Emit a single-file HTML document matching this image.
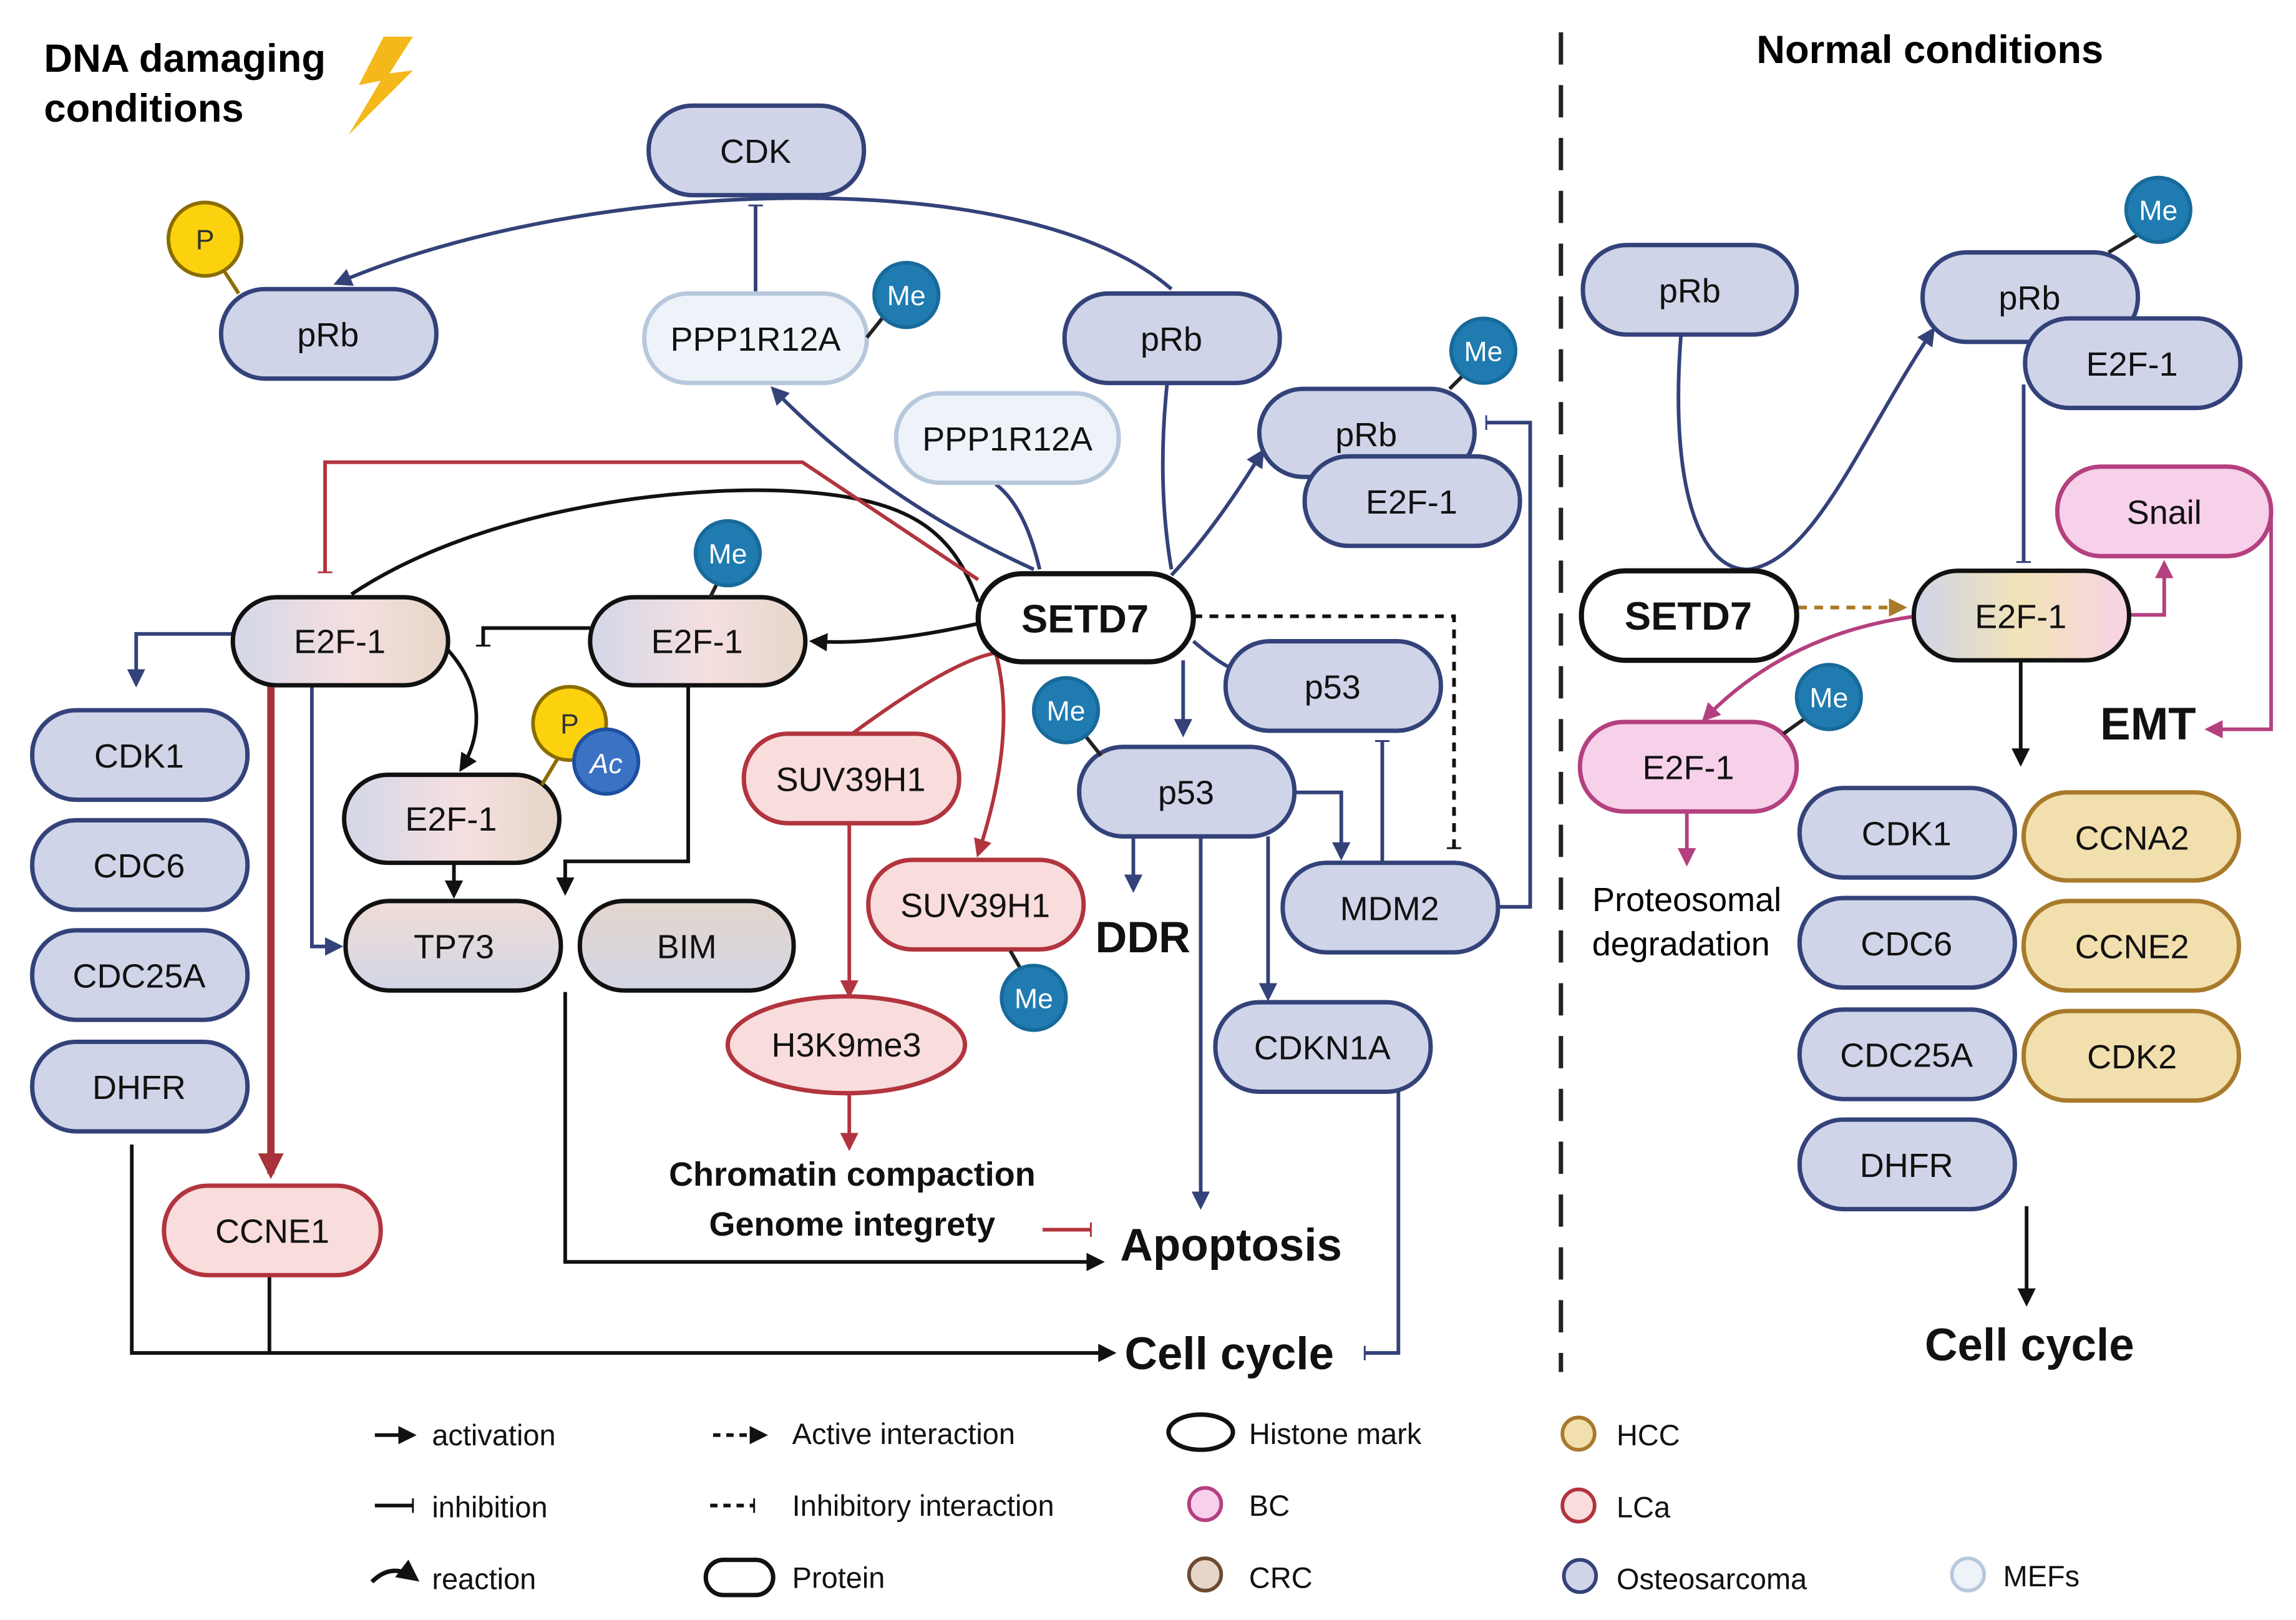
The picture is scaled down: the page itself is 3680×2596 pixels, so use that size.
<!DOCTYPE html>
<html><head><meta charset="utf-8"><style>
html,body{margin:0;padding:0;background:#fff;}
svg{display:block;}
text{font-family:"Liberation Sans",sans-serif;}
</style></head><body>
<svg width="3680" height="2596" viewBox="0 0 1568 1104" preserveAspectRatio="none" xmlns="http://www.w3.org/2000/svg">
<defs>
<linearGradient id="crc" x1="0" x2="1" y1="0" y2="0"><stop offset="0" stop-color="#d3d7e8"/><stop offset="0.55" stop-color="#f5dfe0"/><stop offset="1" stop-color="#e6d6c8"/></linearGradient>
<linearGradient id="crcv" x1="0" x2="0" y1="0" y2="1"><stop offset="0" stop-color="#efdcd6"/><stop offset="1" stop-color="#d3d6e6"/></linearGradient>
<linearGradient id="bimv" x1="0" x2="0" y1="0" y2="1"><stop offset="0" stop-color="#e3d6cc"/><stop offset="1" stop-color="#d3d6e6"/></linearGradient>
<linearGradient id="rg" x1="0" x2="1" y1="0" y2="0"><stop offset="0" stop-color="#cfd4e8"/><stop offset="0.5" stop-color="#f2e3b8"/><stop offset="1" stop-color="#f6d3e6"/></linearGradient>
<marker id="an" viewBox="0 0 10 10" refX="8" refY="5" markerWidth="5" markerHeight="5" orient="auto"><path d="M0,0L10,5L0,10z" fill="#34427a"/></marker>
<marker id="ab" viewBox="0 0 10 10" refX="8" refY="5" markerWidth="5" markerHeight="5" orient="auto"><path d="M0,0L10,5L0,10z" fill="#111"/></marker>
<marker id="ar" viewBox="0 0 10 10" refX="8" refY="5" markerWidth="5" markerHeight="5" orient="auto"><path d="M0,0L10,5L0,10z" fill="#b2343e"/></marker>
<marker id="ar2" viewBox="0 0 10 10" refX="8" refY="5" markerWidth="3.5" markerHeight="3.5" orient="auto"><path d="M0,0L10,5L0,10z" fill="#a8323a"/></marker>
<marker id="ap" viewBox="0 0 10 10" refX="8" refY="5" markerWidth="5" markerHeight="5" orient="auto"><path d="M0,0L10,5L0,10z" fill="#b4407f"/></marker>
<marker id="ao" viewBox="0 0 10 10" refX="8" refY="5" markerWidth="5" markerHeight="5" orient="auto"><path d="M0,0L10,5L0,10z" fill="#a87a2a"/></marker>
<marker id="tn" viewBox="0 0 4 20" refX="2" refY="10" markerWidth="4" markerHeight="10" orient="auto" markerUnits="userSpaceOnUse"><path d="M2,0V20" stroke="#34427a" stroke-width="2.5"/></marker>
<marker id="tb" viewBox="0 0 4 20" refX="2" refY="10" markerWidth="4" markerHeight="10" orient="auto" markerUnits="userSpaceOnUse"><path d="M2,0V20" stroke="#111" stroke-width="2.5"/></marker>
<marker id="tr" viewBox="0 0 4 20" refX="2" refY="10" markerWidth="4" markerHeight="10" orient="auto" markerUnits="userSpaceOnUse"><path d="M2,0V20" stroke="#b2343e" stroke-width="2.5"/></marker>
</defs>

<!-- divider -->
<line x1="1066" y1="22" x2="1066" y2="935" stroke="#222" stroke-width="3" stroke-dasharray="22,14"/>

<!-- titles -->
<text x="30" y="49" font-size="27" font-weight="bold">DNA damaging</text>
<text x="30" y="83" font-size="27" font-weight="bold">conditions</text>
<path d="M262,25 L245,58 L260,55 L238,92 L282,48 L266,50 L282,25z" fill="#f5b81a"/>
<text x="1318" y="43" font-size="27" font-weight="bold" text-anchor="middle">Normal conditions</text>

<!-- EDGES left -->
<g fill="none" stroke="#34427a" stroke-width="2.5">
<path d="M800,197 C700,110 400,120 230,193" marker-end="url(#an)"/>
<path d="M516,200 V140" marker-end="url(#tn)"/>
<path d="M706,388 Q600,340 528,265" marker-end="url(#an)"/>
<path d="M710,388 Q700,345 680,330"/>
<path d="M800,388 Q790,330 797,262"/>
<path d="M800,392 Q830,360 862,308" marker-end="url(#an)"/>
<path d="M1023,618 H1045 V288 H1015" marker-end="url(#tn)"/>
<path d="M808,450 V500" marker-end="url(#an)"/>
<path d="M815,437 Q830,450 840,455"/>
<path d="M944,590 V505" marker-end="url(#tn)"/>
<path d="M884,540 H916 V584" marker-end="url(#an)"/>
<path d="M774,570 V606" marker-end="url(#an)"/>
<path d="M820,570 V822" marker-end="url(#an)"/>
<path d="M866,570 V680" marker-end="url(#an)"/>
<path d="M955,744 V922 H932" marker-end="url(#tn)"/>
<path d="M162,432 H93 V466" marker-end="url(#an)"/>
<path d="M213,467 V645 H232" marker-end="url(#an)"/>
</g>
<g fill="none" stroke="#111" stroke-width="2.5">
<path d="M240,405 C330,345 470,330 545,335 C620,340 650,360 668,410"/>
<path d="M668,425 Q600,440 555,437" marker-end="url(#ab)"/>
<path d="M403,428 H330 V440" marker-end="url(#tb)"/>
<path d="M306,443 C330,470 330,500 315,524" marker-end="url(#ab)"/>
<path d="M470,467 V587 H386 V608" marker-end="url(#ab)"/>
<path d="M310,588 V610" marker-end="url(#ab)"/>
<path d="M386,676 V860 H752" marker-end="url(#ab)"/>
<path d="M90,780 V922 H760" marker-end="url(#ab)"/>
<path d="M184,869 V922"/>
<path d="M815,420 H993 V578" stroke-dasharray="6,5" marker-end="url(#tb)"/>
</g>
<g fill="none" stroke="#b2343e" stroke-width="2.5">
<path d="M668,395 L548,315 H222 V390" marker-end="url(#tr)"/>
<path d="M185,467 V800" stroke-width="5" stroke="#a8323a" marker-end="url(#ar2)"/>
<path d="M680,445 Q650,450 582,500"/>
<path d="M680,445 Q695,500 668,582" marker-end="url(#ar)"/>
<path d="M580,562 V678" marker-end="url(#ar)"/>
<path d="M580,745 V782" marker-end="url(#ar)"/>
<path d="M712,838 H745" marker-end="url(#tr)"/>
</g>

<!-- EDGES right -->
<g fill="none" stroke="#34427a" stroke-width="2.5">
<path d="M1148,228 C1140,330 1160,390 1195,388 C1240,380 1270,300 1320,225" marker-end="url(#an)"/>
<path d="M1382,262 V383" marker-end="url(#tn)"/>
</g>
<path d="M1228,414 H1300" stroke="#a87a2a" stroke-width="2.5" stroke-dasharray="6,5" fill="none" marker-end="url(#ao)"/>
<path d="M1380,450 V520" stroke="#111" stroke-width="2.5" fill="none" marker-end="url(#ab)"/>
<path d="M1384,822 V888" stroke="#111" stroke-width="2.5" fill="none" marker-end="url(#ab)"/>
<g fill="none" stroke="#b4407f" stroke-width="2.5">
<path d="M1454,419 H1478 V384" marker-end="url(#ap)"/>
<path d="M1551,348 V497 H1508" marker-end="url(#ap)"/>
<path d="M1308,420 Q1220,432 1164,490" marker-end="url(#ap)"/>
<path d="M1152,553 V588" marker-end="url(#ap)"/>
</g>

<!-- NODES -->
<g font-size="22" text-anchor="middle" stroke-width="3">
<!-- osteo -->
<g fill="#cfd4e8" stroke="#34427a">
<rect x="443" y="72" width="147" height="61" rx="30"/>
<rect x="151" y="197" width="147" height="61" rx="30"/>
<rect x="727" y="200" width="147" height="61" rx="30"/>
<rect x="860" y="265" width="147" height="60" rx="30"/>
<rect x="891" y="311" width="147" height="61" rx="30"/>
<rect x="22" y="484" width="147" height="61" rx="30"/>
<rect x="22" y="559" width="147" height="61" rx="30"/>
<rect x="22" y="634" width="147" height="61" rx="30"/>
<rect x="22" y="710" width="147" height="61" rx="30"/>
<rect x="837" y="437" width="147" height="61" rx="30"/>
<rect x="737" y="509" width="147" height="61" rx="30"/>
<rect x="876" y="588" width="147" height="61" rx="30"/>
<rect x="830" y="683" width="147" height="61" rx="30"/>
<rect x="1081" y="167" width="146" height="61" rx="30"/>
<rect x="1313" y="172" width="147" height="61" rx="30"/>
<rect x="1383" y="217" width="147" height="61" rx="30"/>
<rect x="1229" y="537" width="147" height="61" rx="30"/>
<rect x="1229" y="612" width="147" height="61" rx="30"/>
<rect x="1229" y="688" width="147" height="61" rx="30"/>
<rect x="1229" y="763" width="147" height="61" rx="30"/>
</g>
<g fill="#eef3fa" stroke="#b8c8dc">
<rect x="440" y="200" width="152" height="61" rx="30"/>
<rect x="612" y="268" width="152" height="61" rx="30"/>
</g>
<g fill="#f9dcdc" stroke="#b2343e">
<rect x="112" y="808" width="148" height="61" rx="30"/>
<rect x="508" y="500" width="147" height="61" rx="30"/>
<rect x="593" y="586" width="147" height="61" rx="30"/>
<ellipse cx="578" cy="712" rx="81" ry="33"/>
</g>
<g fill="#f2dfae" stroke="#a87a2a">
<rect x="1382" y="540" width="147" height="60" rx="30"/>
<rect x="1382" y="614" width="147" height="61" rx="30"/>
<rect x="1382" y="689" width="147" height="61" rx="30"/>
</g>
<g fill="#f7d0ea" stroke="#b4407f">
<rect x="1405" y="318" width="146" height="61" rx="30"/>
<rect x="1079" y="492" width="148" height="61" rx="30"/>
</g>
<g stroke="#111">
<rect x="159" y="407" width="147" height="60" rx="30" fill="url(#crc)"/>
<rect x="403" y="407" width="147" height="60" rx="30" fill="url(#crc)"/>
<rect x="235" y="528" width="147" height="60" rx="30" fill="url(#crc)"/>
<rect x="236" y="614" width="147" height="61" rx="30" fill="url(#crcv)"/>
<rect x="396" y="614" width="146" height="61" rx="30" fill="url(#bimv)"/>
<rect x="668" y="391" width="147" height="60" rx="30" fill="#fff" stroke-width="3.5"/>
<rect x="1080" y="389" width="147" height="61" rx="30" fill="#fff" stroke-width="3.5"/>
<rect x="1307" y="389" width="147" height="61" rx="30" fill="url(#rg)"/>
</g>
<!-- modifications -->
<g stroke-width="2.5">
<line x1="152" y1="183" x2="163" y2="200" stroke="#8a6d00"/>
<circle cx="140" cy="163" r="25" fill="#fcd20e" stroke="#8a6d00"/>
<line x1="592" y1="230" x2="604" y2="215" stroke="#222"/>
<circle cx="619" cy="201" r="22" fill="#1f7bb0" stroke="#176a9a"/>
<line x1="990" y1="265" x2="1000" y2="255" stroke="#222"/>
<circle cx="1013" cy="239" r="22" fill="#1f7bb0" stroke="#176a9a"/>
<line x1="485" y1="407" x2="490" y2="397" stroke="#222"/>
<circle cx="497" cy="377" r="22" fill="#1f7bb0" stroke="#176a9a"/>
<line x1="370" y1="535" x2="382" y2="515" stroke="#8a6d00"/>
<circle cx="389" cy="493" r="25" fill="#fcd20e" stroke="#8a6d00"/>
<circle cx="414" cy="519" r="22" fill="#3b72c4" stroke="#1f4fa0"/>
<line x1="690" y1="648" x2="698" y2="662" stroke="#222"/>
<circle cx="706" cy="680" r="22" fill="#1f7bb0" stroke="#176a9a"/>
<line x1="740" y1="500" x2="752" y2="515" stroke="#222"/>
<circle cx="728" cy="484" r="22" fill="#1f7bb0" stroke="#176a9a"/>
<line x1="1440" y1="172" x2="1460" y2="160" stroke="#222"/>
<circle cx="1474" cy="143" r="22" fill="#1f7bb0" stroke="#176a9a"/>
<line x1="1218" y1="500" x2="1232" y2="490" stroke="#222"/>
<circle cx="1249" cy="475" r="22" fill="#1f7bb0" stroke="#176a9a"/>
</g>
</g>
<g font-size="19" fill="#fff" text-anchor="middle" stroke="none">
<text x="140" y="170" fill="#333">P</text><text x="389" y="500" fill="#333">P</text>
<text x="619" y="208">Me</text><text x="1013" y="246">Me</text><text x="497" y="384">Me</text>
<text x="414" y="527" font-style="italic">Ac</text><text x="706" y="687">Me</text><text x="728" y="491">Me</text>
<text x="1474" y="150">Me</text><text x="1249" y="482">Me</text>
</g>
<g font-size="23" text-anchor="middle" fill="#111">
<text x="516" y="111">CDK</text><text x="224" y="236">pRb</text><text x="800" y="239">pRb</text>
<text x="516" y="239">PPP1R12A</text><text x="688" y="307">PPP1R12A</text>
<text x="933" y="304">pRb</text><text x="964" y="350">E2F-1</text>
<text x="95" y="523">CDK1</text><text x="95" y="598">CDC6</text><text x="95" y="673">CDC25A</text><text x="95" y="749">DHFR</text>
<text x="910" y="476">p53</text><text x="810" y="548">p53</text><text x="949" y="627">MDM2</text><text x="903" y="722">CDKN1A</text>
<text x="186" y="847">CCNE1</text><text x="581" y="539">SUV39H1</text><text x="666" y="625">SUV39H1</text><text x="578" y="720">H3K9me3</text>
<text x="232" y="445">E2F-1</text><text x="476" y="445">E2F-1</text><text x="308" y="566">E2F-1</text>
<text x="310" y="653">TP73</text><text x="469" y="653">BIM</text>
<text x="741" y="431" font-size="27" font-weight="bold">SETD7</text>
<text x="1154" y="206">pRb</text><text x="1386" y="211">pRb</text><text x="1456" y="256">E2F-1</text>
<text x="1478" y="357">Snail</text><text x="1153" y="531">E2F-1</text>
<text x="1153" y="429" font-size="27" font-weight="bold">SETD7</text><text x="1380" y="428">E2F-1</text>
<text x="1302" y="576">CDK1</text><text x="1302" y="651">CDC6</text><text x="1302" y="727">CDC25A</text><text x="1302" y="802">DHFR</text>
<text x="1456" y="579">CCNA2</text><text x="1456" y="653">CCNE2</text><text x="1456" y="728">CDK2</text>
</g>
<g fill="#111" font-weight="bold">
<text x="748" y="649" font-size="30">DDR</text>
<text x="765" y="859" font-size="31">Apoptosis</text>
<text x="768" y="933" font-size="31">Cell cycle</text>
<text x="582" y="808" font-size="23" text-anchor="middle">Chromatin compaction</text>
<text x="582" y="842" font-size="23" text-anchor="middle">Genome integrety</text>
<text x="1467" y="504" font-size="31" text-anchor="middle">EMT</text>
<text x="1386" y="927" font-size="31" text-anchor="middle">Cell cycle</text>
</g>
<text x="1152" y="621" font-size="23" text-anchor="middle">Proteosomal</text>
<text x="1148" y="651" font-size="23" text-anchor="middle">degradation</text>

<!-- legend -->
<g font-size="20" fill="#111">
<path d="M256,978 H282" stroke="#111" stroke-width="2.5" marker-end="url(#ab)"/>
<text x="295" y="985">activation</text>
<path d="M256,1026 H282" stroke="#111" stroke-width="2.5" fill="none" marker-end="url(#tb)"/>
<text x="295" y="1034">inhibition</text>
<path d="M254,1078 Q268,1064 284,1076" stroke="#111" stroke-width="3" fill="none" marker-end="url(#ab)"/>
<text x="295" y="1083">reaction</text>
<path d="M487,978 H522" stroke="#111" stroke-width="2.5" stroke-dasharray="5,4" marker-end="url(#ab)"/>
<text x="541" y="984">Active interaction</text>
<path d="M485,1026 H515" stroke="#111" stroke-width="2.5" stroke-dasharray="5,4" fill="none" marker-end="url(#tb)"/>
<text x="541" y="1033">Inhibitory interaction</text>
<rect x="482" y="1063" width="46" height="24" rx="12" fill="none" stroke="#111" stroke-width="3"/>
<text x="541" y="1082">Protein</text>
<ellipse cx="820" cy="976" rx="22" ry="12" fill="none" stroke="#111" stroke-width="3"/>
<text x="853" y="984">Histone mark</text>
<ellipse cx="823" cy="1025" rx="11" ry="11" fill="#f7d0ea" stroke="#b4407f" stroke-width="2.5"/>
<text x="853" y="1033">BC</text>
<ellipse cx="823" cy="1073" rx="11" ry="11" fill="#e6d6c8" stroke="#6b4a32" stroke-width="2.5"/>
<text x="853" y="1082">CRC</text>
<ellipse cx="1078" cy="977" rx="11" ry="11" fill="#f2dfae" stroke="#a87a2a" stroke-width="2.5"/>
<text x="1104" y="985">HCC</text>
<ellipse cx="1078" cy="1026" rx="11" ry="11" fill="#f9dcdc" stroke="#b2343e" stroke-width="2.5"/>
<text x="1104" y="1034">LCa</text>
<ellipse cx="1079" cy="1074" rx="11" ry="11" fill="#cfd4e8" stroke="#34427a" stroke-width="2.5"/>
<text x="1104" y="1083">Osteosarcoma</text>
<ellipse cx="1344" cy="1073" rx="11" ry="11" fill="#eef3fa" stroke="#b8c8dc" stroke-width="2.5"/>
<text x="1368" y="1081">MEFs</text>
</g>
</svg>
</body></html>
